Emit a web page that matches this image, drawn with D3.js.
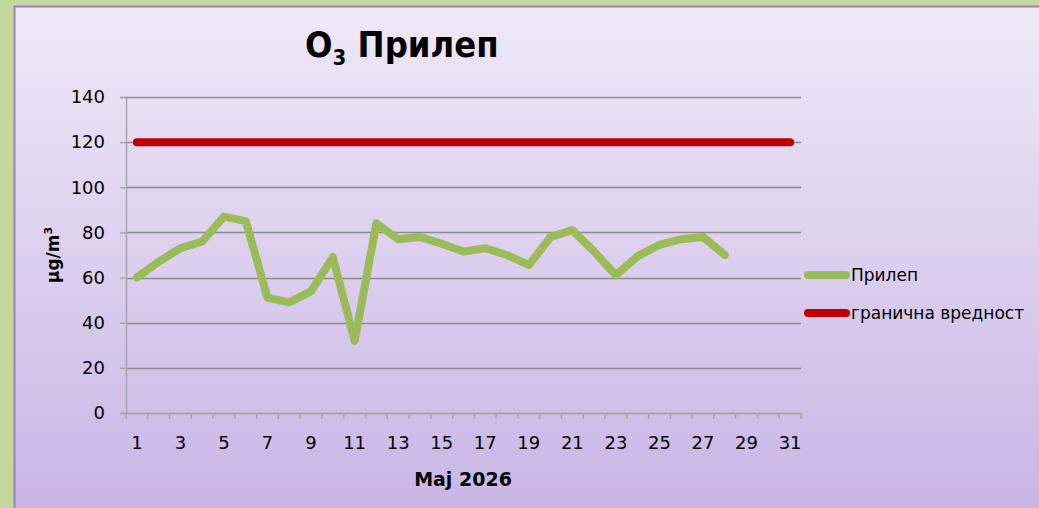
<!DOCTYPE html>
<html>
<head>
<meta charset="utf-8">
<script src="https://cdn.jsdelivr.net/npm/d3@7/dist/d3.min.js"></script>
<style>
  html, body { margin: 0; padding: 0; background: #c3d69b; }
  svg { display: block; }
  text { font-family: "DejaVu Sans", sans-serif; fill: #000; }
</style>
</head>
<body>
<svg id="chart" width="1039" height="508"></svg>
<script>
// Daily O3 readings for Prilep, May 2026 (µg/m³); days 29–31 not yet measured
const days = d3.range(1, 32);
const prilep = [60, 67, 73, 76, 87, 85, 51, 49, 54, 69, 32, 84, 77, 78, 75,
                71.5, 73, 70, 65.5, 78, 81, 71.5, 61, 69.5, 74.5, 77, 78, 70,
                null, null, null];
const limitValue = 120;
const limit = days.map(() => limitValue);
const yTicks = [0, 20, 40, 60, 80, 100, 120, 140];
const xTickLabels = days.filter(d => d % 2 === 1);

const svg = d3.select("#chart");
const W = 1039, H = 508;

// panel background with vertical lavender gradient
const defs = svg.append("defs");
const grad = defs.append("linearGradient").attr("id", "bg").attr("x1", 0).attr("y1", 0).attr("x2", 0).attr("y2", 1);
grad.append("stop").attr("offset", "0%").attr("stop-color", "#efe9f7");
grad.append("stop").attr("offset", "100%").attr("stop-color", "#c8b5e5");

svg.append("rect").attr("x", 0).attr("y", 0).attr("width", W).attr("height", H).attr("fill", "#c3d69b");
svg.append("rect").attr("x", 14).attr("y", 6).attr("width", W).attr("height", H).attr("fill", "url(#bg)");
svg.append("line").attr("x1", 14).attr("y1", 6.5).attr("x2", W).attr("y2", 6.5).attr("stroke", "#9a80c2").attr("stroke-width", 2);
svg.append("line").attr("x1", 14.5).attr("y1", 6).attr("x2", 14.5).attr("y2", H).attr("stroke", "#9a80c2").attr("stroke-width", 2);

const plot = { left: 126, right: 801, top: 97, bottom: 413 };

const x = d3.scaleBand().domain(days).range([plot.left, plot.right]).padding(0);
const y = d3.scaleLinear().domain([0, 140]).range([plot.bottom, plot.top]);
const cx = d => x(d) + x.bandwidth() / 2;

// horizontal gridlines
svg.append("g")
  .selectAll("line").data(yTicks.filter(t => t > 0)).join("line")
  .attr("x1", plot.left).attr("x2", plot.right)
  .attr("y1", d => Math.round(y(d)) + 0.5).attr("y2", d => Math.round(y(d)) + 0.5)
  .attr("stroke", "#8c8c8c").attr("stroke-width", 1.5);

// y axis
const yAxis = svg.append("g").attr("transform", `translate(${plot.left},0)`)
  .attr("font-size", null).attr("font-family", null)
  .call(d3.axisLeft(y).tickValues(yTicks).tickSize(6).tickPadding(15));
yAxis.attr("font-size", 18).attr("font-family", null);
yAxis.select(".domain").attr("stroke", "#a6a6a6").attr("stroke-width", 1.5);
yAxis.selectAll(".tick line").attr("stroke", "#a6a6a6").attr("stroke-width", 1.5);
yAxis.selectAll(".tick text").attr("font-size", 18).style("font-size", "18px").attr("fill", "#000");

// x axis with ticks on category boundaries
const xAxisG = svg.append("g").attr("transform", `translate(0,${plot.bottom})`);
xAxisG.append("line").attr("x1", plot.left).attr("x2", plot.right).attr("y1", 0.5).attr("y2", 0.5)
  .attr("stroke", "#a6a6a6").attr("stroke-width", 2);
xAxisG.selectAll(".bt").data(days.concat([32])).join("line").attr("class", "bt")
  .attr("x1", d => d <= 31 ? x(d) : plot.right).attr("x2", d => d <= 31 ? x(d) : plot.right)
  .attr("y1", 0).attr("y2", 6)
  .attr("stroke", "#a6a6a6").attr("stroke-width", 1.5);
xAxisG.selectAll("text").data(xTickLabels).join("text")
  .attr("x", d => cx(d)).attr("y", 36)
  .attr("text-anchor", "middle").style("font-size", "18px")
  .text(d => d);

// limit value line
const lineGen = d3.line().defined(d => d.v !== null).x(d => cx(d.day)).y(d => y(d.v));
svg.append("path")
  .datum(days.map((d, i) => ({ day: d, v: limit[i] })))
  .attr("d", lineGen).attr("fill", "none")
  .attr("stroke", "#c00000").attr("stroke-width", 8).attr("stroke-linecap", "round");

// measured O3 series
svg.append("path")
  .datum(days.map((d, i) => ({ day: d, v: prilep[i] })))
  .attr("d", lineGen).attr("fill", "none")
  .attr("stroke", "#9bbb59").attr("stroke-width", 8)
  .attr("stroke-linecap", "round").attr("stroke-linejoin", "round");

// title
const title = svg.append("text").attr("x", 305).attr("y", 57).attr("text-anchor", "start")
  .style("font-family", "'DejaVu Sans Condensed', 'DejaVu Sans', sans-serif")
  .style("font-size", "36px").style("font-weight", "bold");
title.append("tspan").style("font-weight", "bold").text("O");
title.append("tspan").attr("dy", 8).style("font-size", "22px").style("font-weight", "bold").text("3");
title.append("tspan").attr("dy", -8).style("font-weight", "bold").text(" Прилеп");

// axis titles
const yTitle = svg.append("text")
  .attr("transform", `translate(59,255) rotate(-90)`)
  .attr("text-anchor", "middle").style("font-size", "17px").style("font-weight", "bold");
yTitle.append("tspan").text("µg/m");
yTitle.append("tspan").attr("dy", -7).style("font-size", "11px").text("3");

svg.append("text").attr("x", 463).attr("y", 486).attr("text-anchor", "middle")
  .style("font-size", "19px").style("font-weight", "bold").text("Maj 2026");

// legend
const legend = [
  { name: "Прилеп", color: "#9bbb59" },
  { name: "гранична вредност", color: "#c00000" }
];
const lg = svg.append("g").attr("transform", "translate(808,275)");
lg.selectAll("line").data(legend).join("line")
  .attr("x1", 0).attr("x2", 38)
  .attr("y1", (d, i) => i * 38).attr("y2", (d, i) => i * 38)
  .attr("stroke", d => d.color).attr("stroke-width", 8).attr("stroke-linecap", "round");
lg.selectAll("text").data(legend).join("text")
  .attr("x", 43).attr("y", (d, i) => i * 38 + 6)
  .style("font-size", "17px").text(d => d.name);
</script>
</body>
</html>
